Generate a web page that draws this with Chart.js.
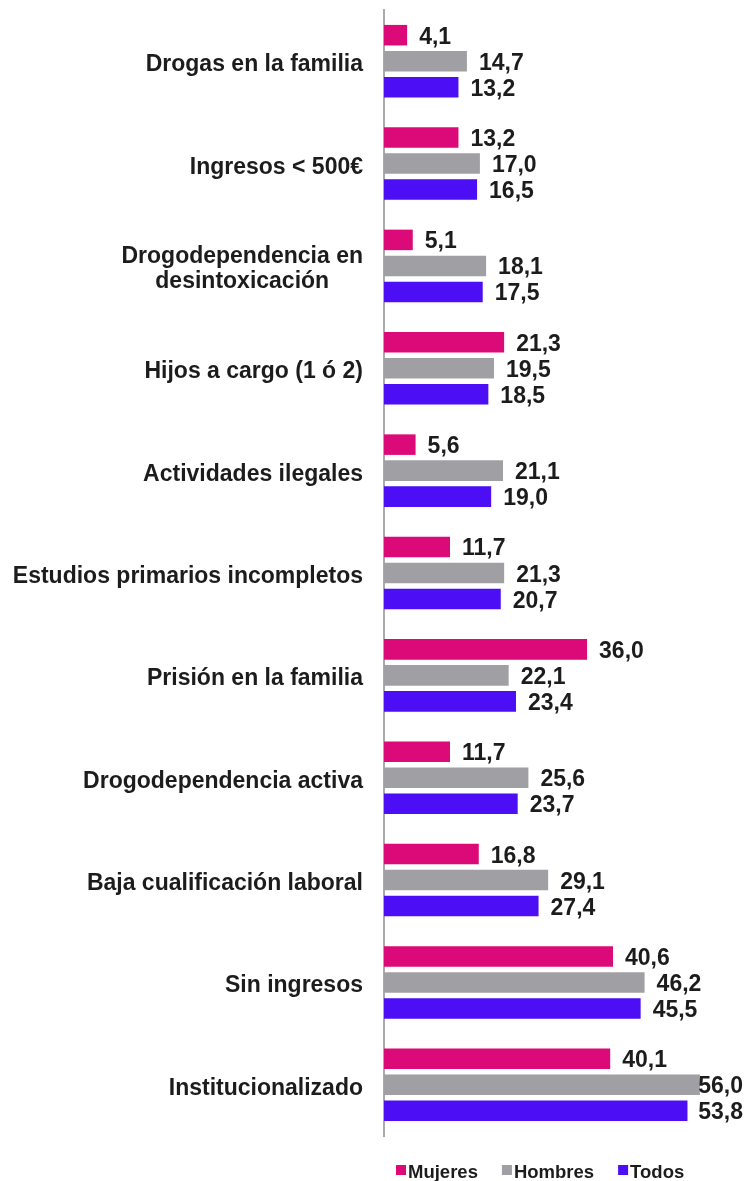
<!DOCTYPE html>
<html>
<head>
<meta charset="utf-8">
<style>
  html, body { margin: 0; padding: 0; background: #fff; }
  #wrap { width: 747px; height: 1181px; }
</style>
<script src="https://cdn.jsdelivr.net/npm/chart.js@4/dist/chart.umd.min.js"></script>
</head>
<body>
<div id="wrap"><canvas id="chart" width="747" height="1181"></canvas></div>
<script>
const categories = [
  ['Drogas en la familia'],
  ['Ingresos < 500€'],
  ['Drogodependencia en', 'desintoxicación'],
  ['Hijos a cargo (1 ó 2)'],
  ['Actividades ilegales'],
  ['Estudios primarios incompletos'],
  ['Prisión en la familia'],
  ['Drogodependencia activa'],
  ['Baja cualificación laboral'],
  ['Sin ingresos'],
  ['Institucionalizado']
];
const mujeres = [4.1, 13.2, 5.1, 21.3, 5.6, 11.7, 36.0, 11.7, 16.8, 40.6, 40.1];
const hombres = [14.7, 17.0, 18.1, 19.5, 21.1, 21.3, 22.1, 25.6, 29.1, 46.2, 56.0];
const todos = [13.2, 16.5, 17.5, 18.5, 19.0, 20.7, 23.4, 23.7, 27.4, 45.5, 53.8];
const seriesNames = ['Mujeres', 'Hombres', 'Todos'];

const colors = ['#dc0a78', '#a09fa4', '#4b0ef5'];
const font = '"Liberation Sans", Arial, Helvetica, sans-serif';
const textColor = '#1c1c1c';

const fmt = (v) => v.toFixed(1).replace('.', ',');

// category names, value labels and legend are painted by hand
const textPlugin = {
  id: 'textPlugin',
  afterDatasetsDraw(chart) {
    const ctx = chart.ctx;
    const yScale = chart.scales.y;
    const area = chart.chartArea;
    ctx.save();
    ctx.fillStyle = textColor;

    // category names: block right aligned, lines centred in the block
    ctx.font = 'bold 23px ' + font;
    ctx.textBaseline = 'alphabetic';
    ctx.textAlign = 'center';
    categories.forEach((lines, i) => {
      const cy = yScale.getPixelForTick(i);
      const w = Math.max(...lines.map(l => ctx.measureText(l).width));
      const cx = 363 - w / 2;
      lines.forEach((l, j) => {
        const by = cy + 10 + (j - (lines.length - 1) / 2) * 25;
        ctx.fillText(l, cx, by);
      });
    });

    // value labels next to each bar
    ctx.textAlign = 'left';
    chart.data.datasets.forEach((ds, d) => {
      const meta = chart.getDatasetMeta(d);
      meta.data.forEach((bar, i) => {
        const txt = fmt(ds.data[i]);
        const w = ctx.measureText(txt).width;
        const x = Math.min(bar.x + 12, 743 - w);
        ctx.fillText(txt, x, bar.y + 8.5);
      });
    });

    // legend row under the plot
    ctx.font = 'bold 18.5px ' + font;
    let x = area.left + 12;
    const yBox = 1165;
    chart.data.datasets.forEach((ds) => {
      ctx.fillStyle = ds.backgroundColor;
      ctx.fillRect(x, yBox, 10, 10);
      x += 12;
      ctx.fillStyle = textColor;
      ctx.fillText(ds.label, x, yBox + 12.5);
      x += ctx.measureText(ds.label).width + 24;
    });
    ctx.restore();
  }
};

const ctx = document.getElementById('chart').getContext('2d');
const config = {
  type: 'bar',
  data: {
    labels: categories,
    datasets: [mujeres, hombres, todos].map((vals, k) => ({
      label: seriesNames[k],
      data: vals,
      backgroundColor: colors[k],
      borderWidth: 0,
      categoryPercentage: 0.762,
      barPercentage: 0.79
    }))
  },
  options: {
    indexAxis: 'y',
    responsive: false,
    animation: false,
    devicePixelRatio: 1,
    layout: { padding: { left: 384, top: 10, right: 2, bottom: 45 } },
    plugins: {
      legend: { display: false },
      tooltip: { enabled: false }
    },
    scales: {
      x: {
        display: false,
        min: 0,
        max: 64
      },
      y: {
        display: true,
        grid: { display: false, drawTicks: false },
        ticks: { display: false },
        border: { display: true, color: '#ababab', width: 2 }
      }
    }
  },
  plugins: [textPlugin]
};
const chart = new Chart(ctx, config);
</script>
</body>
</html>
